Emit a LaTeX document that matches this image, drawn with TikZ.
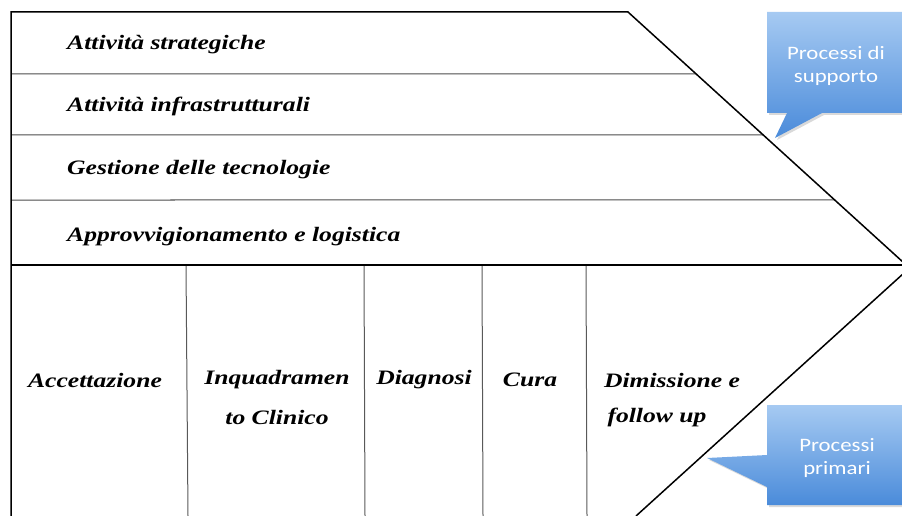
\documentclass[tikz,border=0pt]{standalone}
\usepackage{fontspec}
\setmainfont{Liberation Serif}
\newfontfamily\chainfont[FakeStretch=1.25]{Liberation Serif}
\newfontfamily\calloutfont[FakeStretch=1.2]{Carlito}
\definecolor{calltop}{HTML}{A6CAF2}
\definecolor{callbot}{HTML}{4A8BDA}
\begin{document}
\begin{tikzpicture}[x=1pt,y=-1pt,
  outline/.style={draw=black,line width=1.5pt},
  baseline rule/.style={draw=black,line width=2pt},
  rowline/.style={draw=black!70,line width=1pt},
  colline/.style={draw=black!65,line width=1pt},
  activity/.style={font=\chainfont\fontsize{20.5}{24}\selectfont\bfseries\itshape,anchor=west,inner sep=0pt},
  phase/.style={font=\chainfont\fontsize{20.5}{24}\selectfont\bfseries\itshape,anchor=center,inner sep=0pt},
  callout/.style={top color=calltop,bottom color=callbot},
  callshadow/.style={fill=black,opacity=0.15},
  calltext/.style={font=\calloutfont\fontsize{19}{22}\selectfont,text=white,align=center,inner sep=0pt}]
\useasboundingbox (0,0) rectangle (902,516);

% frame of the value chain
\coordinate (tl) at (11,12);
\coordinate (tr) at (628,12);
\coordinate (apex) at (904,263);
\coordinate (lapex) at (904,273);
\coordinate (lbot) at (636,516);
\coordinate (bl) at (11,516);
\coordinate (ml) at (11,265);
\coordinate (mr) at (904,265);

% support activity rows
\foreach \yy/\nm in {74/ra,135/rb,200/rc}{
  \coordinate (\nm-l) at (11,\yy);
  \coordinate (\nm-r) at (intersection of tr--apex and 11,\yy--900,\yy);
  \draw[rowline] (\nm-l) -- (\nm-r);
}

% primary activity columns
\foreach \xa/\xb/\nm in {186/188/ca,364/365/cb,482/483/cc,586/587/cd}{
  \coordinate (\nm-t) at (\xa,265);
  \coordinate (\nm-b) at (\xb,516);
  \draw[colline] (\nm-t) -- (\nm-b);
}

\draw[outline] (bl) -- (tl) -- (tr) -- (apex);
\draw[baseline rule] (ml) -- (mr);
\draw[outline] (lapex) -- (lbot);

% support activities
\node[activity] (a1) at (67,45) {Attività strategiche};
\node[activity] (a2) at (67,106) {Attività infrastrutturali};
\node[activity] (a3) at (67,170) {Gestione delle tecnologie};
\node[activity] (a4) at (67,237) {Approvvigionamento e logistica};

% primary activities
\node[phase] (p1) at (95,380) {Accettazione};
\node[phase] (p2a) at (277,380) {Inquadramen};
\node[phase] (p2b) at (277,417) {to Clinico};
\node[phase] (p3) at (424,380) {Diagnosi};
\node[phase] (p4) at (530,380) {Cura};
\node[phase] (p5a) at (672,380) {Dimissione e};
\node[phase] (p5b) at (657,417) {follow up};

% callout: support processes
\fill[callshadow] (769,14) -- (905,14) -- (905,115) -- (824,115) -- (777,140) -- (789,115) -- (769,115) -- cycle;
\shade[callout] (767,12) -- (904,12) -- (904,113) -- (822,113) -- (775,138) -- (787,113) -- (767,113) -- cycle;
\node[calltext] (cs) at (836,66) {Processi di\\[1pt]supporto};

% callout: primary processes
\fill[callshadow] (769,407) -- (905,407) -- (905,507) -- (769,507) -- (769,489) -- (709,460) -- (769,457) -- cycle;
\shade[callout] (767,405) -- (904,405) -- (904,505) -- (767,505) -- (767,487) -- (707,458) -- (767,455) -- cycle;
\node[calltext] (cp) at (837,458) {Processi\\[1pt]primari};
\end{tikzpicture}
\end{document}
